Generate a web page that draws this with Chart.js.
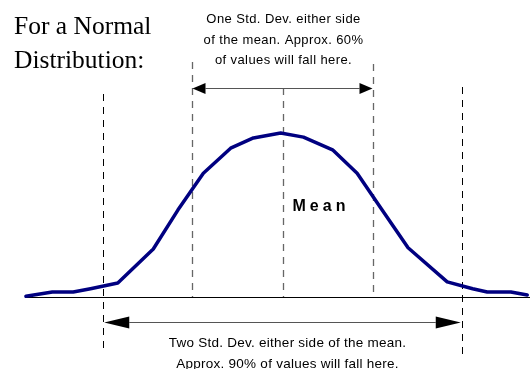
<!DOCTYPE html>
<html>
<head>
<meta charset="utf-8">
<script src="https://cdn.jsdelivr.net/npm/chart.js@4/dist/chart.umd.min.js"></script>
<style>
    html, body { margin: 0; padding: 0; background: #ffffff; }
    #wrap { width: 530px; height: 369px; position: relative; }
</style>
</head>
<body>
<div id="wrap"><canvas id="normalChart"></canvas></div>
<script>
// x in standard deviations from the mean, y as relative frequency
const sdValues = [-2.82, -2.53, -2.30, -2.11, -1.81, -1.42, -1.15, -0.87, -0.57, -0.32, -0.02, 0.23, 0.55, 0.82, 1.08, 1.38, 1.81, 2.09, 2.25, 2.51, 2.69];
const frequency = [0.002, 0.012, 0.012, 0.020, 0.034, 0.117, 0.212, 0.302, 0.363, 0.388, 0.400, 0.390, 0.359, 0.302, 0.217, 0.120, 0.037, 0.020, 0.012, 0.012, 0.005];
const oneSd = [-1, 1];
const twoSd = [-1.97, 1.97];
const meanSd = 0;

const titleLines = ["For a Normal", "Distribution:"];
const oneSdText = ["One Std. Dev. either side", "of the mean. Approx. 60%", "of values will fall here."];
const twoSdText = ["Two Std. Dev. either side of the mean.", "Approx. 90% of values will fall here."];
const meanLabel = "Mean";

function dashedLine(ctx, x, y1, y2, color, width)
{
    ctx.save();
    ctx.strokeStyle = color;
    ctx.lineWidth = width;
    ctx.setLineDash([7, 6]);
    ctx.beginPath();
    ctx.moveTo(Math.round(x) + 0.5, y1);
    ctx.lineTo(Math.round(x) + 0.5, y2);
    ctx.stroke();
    ctx.restore();
}

function arrow(ctx, x1, x2, y, headLen, headHalf)
{
    ctx.save();
    ctx.strokeStyle = "#555555";
    ctx.lineWidth = 1;
    ctx.beginPath();
    ctx.moveTo(x1 + headLen, y + 0.5);
    ctx.lineTo(x2 - headLen, y + 0.5);
    ctx.stroke();
    ctx.fillStyle = "#000000";
    ctx.beginPath();
    ctx.moveTo(x1, y + 0.5);
    ctx.lineTo(x1 + headLen, y + 0.5 - headHalf);
    ctx.lineTo(x1 + headLen, y + 0.5 + headHalf);
    ctx.closePath();
    ctx.fill();
    ctx.beginPath();
    ctx.moveTo(x2, y + 0.5);
    ctx.lineTo(x2 - headLen, y + 0.5 - headHalf);
    ctx.lineTo(x2 - headLen, y + 0.5 + headHalf);
    ctx.closePath();
    ctx.fill();
    ctx.restore();
}

const annotations =
{
    id: "annotations",
    beforeDatasetsDraw(chart)
    {
        const ctx = chart.ctx;
        const xs = chart.scales.x;
        const ys = chart.scales.y;
        const base = ys.getPixelForValue(0);

        // baseline
        ctx.save();
        ctx.strokeStyle = "#000000";
        ctx.lineWidth = 1;
        ctx.beginPath();
        ctx.moveTo(xs.left, Math.round(base) + 0.5);
        ctx.lineTo(chart.width, Math.round(base) + 0.5);
        ctx.stroke();
        ctx.restore();

        dashedLine(ctx, xs.getPixelForValue(twoSd[0]), 94, 353, "#000000", 1);
        dashedLine(ctx, xs.getPixelForValue(twoSd[1]), 87, 357, "#000000", 1);
        dashedLine(ctx, xs.getPixelForValue(oneSd[0]), 62, base, "#666666", 1.3);
        dashedLine(ctx, xs.getPixelForValue(oneSd[1]), 64, base, "#666666", 1.3);
        dashedLine(ctx, xs.getPixelForValue(meanSd), 88, base, "#666666", 1.3);
    },
    afterDatasetsDraw(chart)
    {
        const ctx = chart.ctx;
        const xs = chart.scales.x;
        const ys = chart.scales.y;
        const base = ys.getPixelForValue(0);

        arrow(ctx, xs.getPixelForValue(oneSd[0]) + 1, xs.getPixelForValue(oneSd[1]) - 1, 88, 13, 5.5);
        arrow(ctx, xs.getPixelForValue(twoSd[0]) + 1, xs.getPixelForValue(twoSd[1]) - 1, base + 25, 25, 6);

        ctx.save();
        ctx.fillStyle = "#000000";
        ctx.textBaseline = "alphabetic";

        ctx.font = "25.5px 'Liberation Serif', 'Times New Roman', serif";
        ctx.textAlign = "left";
        ctx.fillText(titleLines[0], 14, 34);
        ctx.fillText(titleLines[1], 14, 68);

        const mid = xs.getPixelForValue(meanSd);
        ctx.font = "13px 'Liberation Sans', Arial, sans-serif";
        ctx.letterSpacing = "0.4px";
        ctx.textAlign = "center";
        ctx.fillText(oneSdText[0], mid + 1, 23);
        ctx.fillText(oneSdText[1], mid + 1, 43.5);
        ctx.fillText(oneSdText[2], mid + 1, 64);

        ctx.font = "13.5px 'Liberation Sans', Arial, sans-serif";
        ctx.letterSpacing = "0.25px";
        ctx.fillText(twoSdText[0], mid + 5, 347);
        ctx.fillText(twoSdText[1], mid + 5, 368);

        ctx.font = "bold 16px 'Liberation Sans', Arial, sans-serif";
        ctx.letterSpacing = "4px";
        ctx.textAlign = "left";
        ctx.fillText(meanLabel, mid + 10, 211);
        ctx.restore();
    }
};

new Chart(document.getElementById("normalChart"),
{
    type: "line",
    data:
    {
        datasets:
        [
            {
                data: sdValues.map((x, i) => ({ x: x, y: frequency[i] })),
                borderColor: "#000080",
                borderWidth: 3.5,
                pointRadius: 0,
                tension: 0,
                fill: false,
                clip: false,
                borderJoinStyle: "round",
                borderCapStyle: "round"
            }
        ]
    },
    options:
    {
        responsive: true,
        maintainAspectRatio: false,
        animation: false,
        layout:
        {
            padding: { left: 25, right: 0, top: 10, bottom: 72 }
        },
        plugins:
        {
            legend: { display: false },
            tooltip: { enabled: false }
        },
        scales:
        {
            x:
            {
                type: "linear",
                display: false,
                min: -2.83,
                max: 2.72
            },
            y:
            {
                display: false,
                min: 0,
                max: 0.7
            }
        }
    },
    plugins: [annotations]
});
</script>
</body>
</html>
